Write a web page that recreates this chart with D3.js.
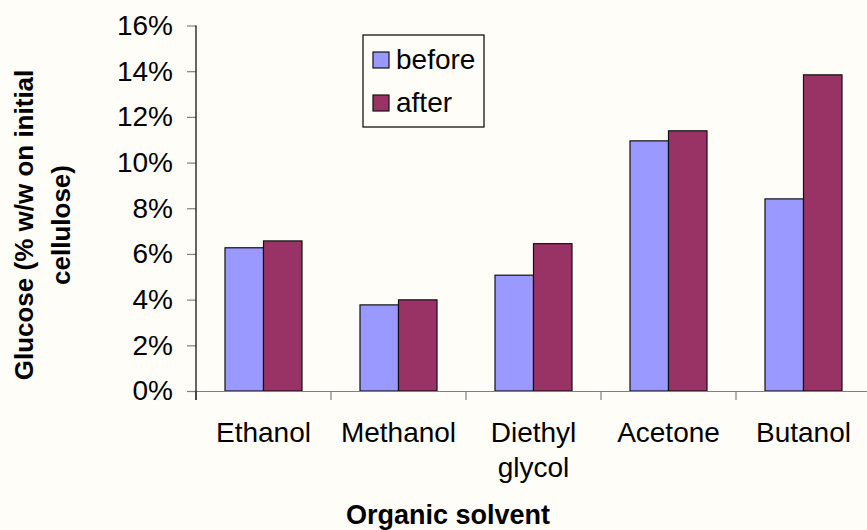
<!DOCTYPE html>
<html>
<head>
<meta charset="utf-8">
<script src="https://cdn.jsdelivr.net/npm/d3@7"></script>
<style>
  html, body { margin: 0; padding: 0; background: #fffdf8; }
  svg { display: block; font-family: Arial, "Liberation Sans", sans-serif; }
</style>
</head>
<body>
<svg id="chart" width="867" height="530"></svg>
<script>
// Glucose yield by organic solvent, before and after treatment
const categories = ["Ethanol", "Methanol", "Diethyl glycol", "Acetone", "Butanol"];
const categoryLines = [["Ethanol"], ["Methanol"], ["Diethyl", "glycol"], ["Acetone"], ["Butanol"]];
const seriesNames = ["before", "after"];
const beforeValues = [0.0627, 0.0377, 0.0507, 0.1095, 0.0841];
const afterValues  = [0.0657, 0.0399, 0.0645, 0.1139, 0.1384];
const yTicks = [0, 0.02, 0.04, 0.06, 0.08, 0.10, 0.12, 0.14, 0.16];
const colors = { before: "#9999ff", after: "#993366" };

const svg = d3.select("#chart");
const plotLeft = 196, plotRight = 871, plotTop = 25.5, plotBottom = 391;

const x = d3.scaleBand().domain(categories).range([plotLeft, plotRight]).paddingInner(0).paddingOuter(0);
const x1 = d3.scaleBand().domain(seriesNames).range([0, x.bandwidth()]).paddingInner(0).paddingOuter(0.753);
const y = d3.scaleLinear().domain([0, 0.16]).range([plotBottom, plotTop]);

const rows = categories.map((c, i) => ({ c, before: beforeValues[i], after: afterValues[i] }));

// Bars
const groups = svg.append("g").selectAll("g").data(rows).join("g")
  .attr("transform", d => `translate(${x(d.c)},0)`);
groups.selectAll("rect").data(d => seriesNames.map(s => ({ s, v: d[s] }))).join("rect")
  .attr("x", d => x1(d.s))
  .attr("y", d => y(d.v))
  .attr("width", x1.bandwidth())
  .attr("height", d => y(0) - y(d.v))
  .attr("fill", d => colors[d.s])
  .attr("stroke", "#111")
  .attr("stroke-width", 1.2);

// X axis line and category separators
const xAxis = svg.append("g").attr("transform", `translate(0,${plotBottom})`)
  .call(d3.axisBottom(x).tickValues([]).tickSizeOuter(0));
xAxis.select(".domain").attr("stroke", "#808080").attr("stroke-width", 1.2);
svg.append("g").selectAll("line").data(categories).join("line")
  .attr("x1", d => x(d)).attr("x2", d => x(d))
  .attr("y1", plotBottom).attr("y2", plotBottom + 9)
  .attr("stroke", "#808080").attr("stroke-width", 1.2);

// Category labels
const catLabels = svg.append("g").selectAll("text").data(categories).join("text")
  .attr("x", d => x(d) + x.bandwidth() / 2)
  .attr("y", 442)
  .attr("text-anchor", "middle")
  .attr("font-size", 28)
  .attr("fill", "#000");
catLabels.each(function (d, i) {
  const t = d3.select(this);
  categoryLines[i].forEach((line, j) => {
    t.append("tspan").attr("x", x(d) + x.bandwidth() / 2).attr("dy", j === 0 ? 0 : 35).text(line);
  });
});

// Y axis
const yAxis = svg.append("g").attr("transform", `translate(${plotLeft},0)`)
  .call(d3.axisLeft(y).tickValues(yTicks).tickFormat(d3.format(".0%")).tickSize(9).tickPadding(14).tickSizeOuter(0));
yAxis.select(".domain").remove();
yAxis.selectAll(".tick line").attr("stroke", "#808080").attr("stroke-width", 1.2);
yAxis.selectAll(".tick text").attr("font-size", 28).attr("fill", "#000").attr("font-family", "Arial, 'Liberation Sans', sans-serif");
svg.append("line")
  .attr("x1", plotLeft).attr("x2", plotLeft).attr("y1", y(0.16)).attr("y2", plotBottom + 9)
  .attr("stroke", "#000").attr("stroke-width", 1.2);

// Axis titles
svg.append("text")
  .attr("x", 448).attr("y", 524)
  .attr("text-anchor", "middle").attr("font-size", 27).attr("font-weight", "bold")
  .text("Organic solvent");
const yTitle = svg.append("text")
  .attr("transform", "translate(33,225) rotate(-90)")
  .attr("text-anchor", "middle").attr("font-size", 26).attr("font-weight", "bold");
yTitle.append("tspan").attr("x", 0).attr("dy", 0).text("Glucose (% w/w on initial");
yTitle.append("tspan").attr("x", 0).attr("dy", 37).text("cellulose)");

// Legend
const legend = svg.append("g").attr("transform", "translate(363,35)");
legend.append("rect").attr("width", 121).attr("height", 92)
  .attr("fill", "#fffdf8").attr("stroke", "#000").attr("stroke-width", 1.2);
seriesNames.forEach((s, i) => {
  legend.append("rect").attr("x", 10).attr("y", 17 + i * 43).attr("width", 16).attr("height", 16)
    .attr("fill", colors[s]).attr("stroke", "#111").attr("stroke-width", 1.2);
  legend.append("text").attr("x", 33).attr("y", 34 + i * 43)
    .attr("font-size", 28).attr("fill", "#000").text(s);
});
</script>
</body>
</html>
